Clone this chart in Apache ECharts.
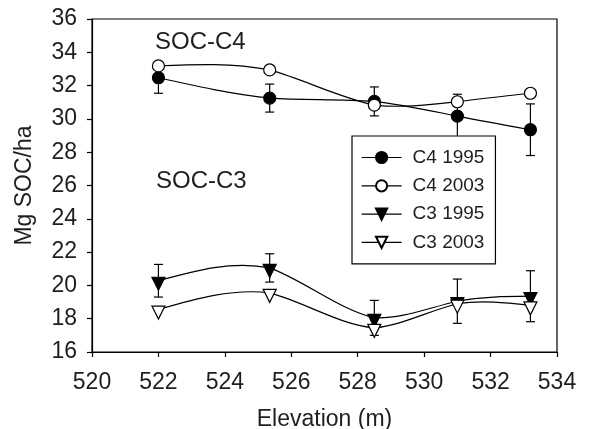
<!DOCTYPE html>
<html>
<head>
<meta charset="utf-8">
<script src="https://cdn.jsdelivr.net/npm/echarts@6/dist/echarts.min.js"></script>
<style>
html,body{margin:0;padding:0;background:#fff;}
#chart{width:594px;height:429px;}
</style>
</head>
<body>
<div id="chart"></div>
<script>
// Data
const elevation = [522.0, 525.35, 528.5, 531.0, 533.2];
const c4_1995 = [32.47, 31.25, 31.05, 30.17, 29.35];
const c4_1995_err = [0.93, 0.84, 0.87, 1.31, 1.55];
const c4_2003 = [33.18, 32.94, 30.83, 31.03, 31.54];
const c3_1995 = [20.28, 21.05, 18.05, 19.05, 19.35];
const c3_1995_err = [0.98, 0.85, 1.05, 1.33, 1.53];
const c3_2003 = [18.55, 19.55, 17.45, 18.9, 18.8];
const seriesNames = ['C4 1995', 'C4 2003', 'C3 1995', 'C3 2003'];
const xTicks = {min: 520, max: 534, interval: 2};
const yTicks = {min: 16, max: 36, interval: 2};

const FONT = 'Liberation Sans, Arial, Helvetica, sans-serif';
const TXT = '#1e1e1e';
const TENSION = 0.72;

function pairs(vals) { return elevation.map((x, i) => [x, vals[i]]); }
function errPairs(vals, errs) { return elevation.map((x, i) => [x, vals[i], errs[i]]); }

function errRender(params, api) {
  const x = api.value(0), y = api.value(1), e = api.value(2);
  const top = api.coord([x, y + e]);
  const bot = api.coord([x, y - e]);
  const cw = 4.5;
  const st = {stroke: '#000', lineWidth: 1.2};
  return {
    type: 'group',
    children: [
      {type: 'line', shape: {x1: top[0], y1: top[1], x2: bot[0], y2: bot[1]}, style: st},
      {type: 'line', shape: {x1: top[0] - cw, y1: top[1], x2: top[0] + cw, y2: top[1]}, style: st},
      {type: 'line', shape: {x1: bot[0] - cw, y1: bot[1], x2: bot[0] + cw, y2: bot[1]}, style: st}
    ]
  };
}

// Cubic spline through the points (pixel space, from api.coord)
function splineRenderFor(vals) {
  return function (params, api) {
    if (params.dataIndex !== 0) return null;
    const pts = elevation.map((x, i) => api.coord([x, vals[i]]));
    const n = pts.length;
    const xs = pts.map(p => p[0]), ys = pts.map(p => p[1]);
    const h = [];
    for (let i = 0; i < n - 1; i++) h.push(xs[i + 1] - xs[i]);
    const M = new Array(n).fill(0);
    const a = [], b = [], c = [], d = [];
    for (let i = 1; i < n - 1; i++) {
      a.push(h[i - 1]);
      b.push(2 * (h[i - 1] + h[i]));
      c.push(h[i]);
      d.push(6 * ((ys[i + 1] - ys[i]) / h[i] - (ys[i] - ys[i - 1]) / h[i - 1]));
    }
    const m = b.length;
    for (let i = 1; i < m; i++) {
      const w = a[i] / b[i - 1];
      b[i] -= w * c[i - 1];
      d[i] -= w * d[i - 1];
    }
    const sol = new Array(m);
    for (let i = m - 1; i >= 0; i--) {
      sol[i] = (d[i] - (i < m - 1 ? c[i] * sol[i + 1] : 0)) / b[i];
    }
    for (let i = 0; i < m; i++) M[i + 1] = sol[i];
    // node slopes
    const slope = new Array(n);
    for (let i = 0; i < n - 1; i++) {
      const s = (ys[i + 1] - ys[i]) / h[i];
      slope[i] = s - h[i] * (2 * M[i] + M[i + 1]) / 6;
    }
    {
      const i = n - 2;
      const s = (ys[i + 1] - ys[i]) / h[i];
      slope[n - 1] = s + h[i] * (M[i] + 2 * M[i + 1]) / 6;
    }
    const children = [];
    for (let i = 0; i < n - 1; i++) {
      const hi = h[i];
      const s = (ys[i + 1] - ys[i]) / hi;
      const d0 = s + TENSION * (slope[i] - s);
      const d1 = s + TENSION * (slope[i + 1] - s);
      children.push({
        type: 'bezierCurve',
        shape: {
          x1: xs[i], y1: ys[i], x2: xs[i + 1], y2: ys[i + 1],
          cpx1: xs[i] + hi / 3, cpy1: ys[i] + d0 * hi / 3,
          cpx2: xs[i + 1] - hi / 3, cpy2: ys[i + 1] - d1 * hi / 3
        },
        style: {stroke: '#000', lineWidth: 1.2, fill: null}
      });
    }
    return {type: 'group', children: children};
  };
}

function curveSeries(vals) {
  return {type: 'custom', renderItem: splineRenderFor(vals), data: pairs(vals), z: 2, silent: true};
}

function markerSeries(name, vals, symbol, rotate, fill, size, offset) {
  return {
    name: name,
    type: 'line',
    data: pairs(vals),
    symbol: symbol,
    symbolRotate: rotate,
    symbolSize: size,
    symbolOffset: offset,
    showAllSymbol: true,
    z: 3,
    lineStyle: {color: '#000', width: 1.2, opacity: 0},
    itemStyle: {color: fill, borderColor: '#000', borderWidth: 1.2},
    emphasis: {disabled: true},
    animation: false
  };
}

const chart = echarts.init(document.getElementById('chart'), null, {renderer: 'canvas'});
chart.setOption({
  animation: false,
  backgroundColor: '#fff',
  grid: {left: 92, right: 37, top: 19, bottom: 77, show: true, borderColor: '#000', borderWidth: 1.2, backgroundColor: 'transparent', containLabel: false, outerBoundsMode: 'none'},
  xAxis: {
    type: 'value', min: xTicks.min, max: xTicks.max, interval: xTicks.interval,
    name: 'Elevation (m)', nameLocation: 'middle', nameGap: 56,
    nameTextStyle: {fontFamily: FONT, fontSize: 23, color: TXT},
    axisLine: {onZero: false, lineStyle: {color: '#000', width: 1.2}},
    axisTick: {show: true, inside: false, length: 5, lineStyle: {color: '#000', width: 1.2}},
    axisLabel: {fontFamily: FONT, fontSize: 23, color: TXT, margin: 19},
    splitLine: {show: false}
  },
  yAxis: {
    type: 'value', min: yTicks.min, max: yTicks.max, interval: yTicks.interval,
    name: 'Mg SOC/ha', nameLocation: 'middle', nameGap: 56, nameRotate: 90,
    nameTextStyle: {fontFamily: FONT, fontSize: 23, color: TXT},
    axisLine: {onZero: false, lineStyle: {color: '#000', width: 1.2}},
    axisTick: {show: true, inside: false, length: 5, lineStyle: {color: '#000', width: 1.2}},
    axisLabel: {fontFamily: FONT, fontSize: 23, color: TXT, margin: 15},
    splitLine: {show: false}
  },
  legend: {
    orient: 'vertical', left: 352, top: 136,
    data: seriesNames,
    itemWidth: 40, itemHeight: 14, itemGap: 9.3,
    padding: [12, 11, 12, 9],
    backgroundColor: '#fff', borderColor: '#000', borderWidth: 1.2, borderRadius: 0,
    lineStyle: {color: '#000', width: 1.2, opacity: 1, type: 'solid'},
    textStyle: {fontFamily: FONT, fontSize: 19, color: TXT, lineHeight: 14, padding: [0, 0, 0, 6]},
    selectedMode: false,
    z: 10
  },
  graphic: [
    {type: 'text', left: 155, top: 30, z: 20, style: {text: 'SOC-C4', font: '24px ' + FONT, fill: TXT}},
    {type: 'text', left: 156, top: 169, z: 20, style: {text: 'SOC-C3', font: '24px ' + FONT, fill: TXT}}
  ],
  series: [
    {type: 'custom', renderItem: errRender, data: errPairs(c4_1995, c4_1995_err), z: 2, silent: true},
    {type: 'custom', renderItem: errRender, data: errPairs(c3_1995, c3_1995_err), z: 2, silent: true},
    curveSeries(c4_1995),
    curveSeries(c4_2003),
    curveSeries(c3_1995),
    curveSeries(c3_2003),
    markerSeries(seriesNames[0], c4_1995, 'circle', 0, '#000', 12, [0, 0]),
    markerSeries(seriesNames[1], c4_2003, 'circle', 0, '#fff', 12, [0, 0]),
    markerSeries(seriesNames[2], c3_1995, 'triangle', 180, '#000', 13, [0, 3]),
    markerSeries(seriesNames[3], c3_2003, 'triangle', 180, '#fff', 13, [0, 3])
  ]
});
</script>
</body>
</html>
